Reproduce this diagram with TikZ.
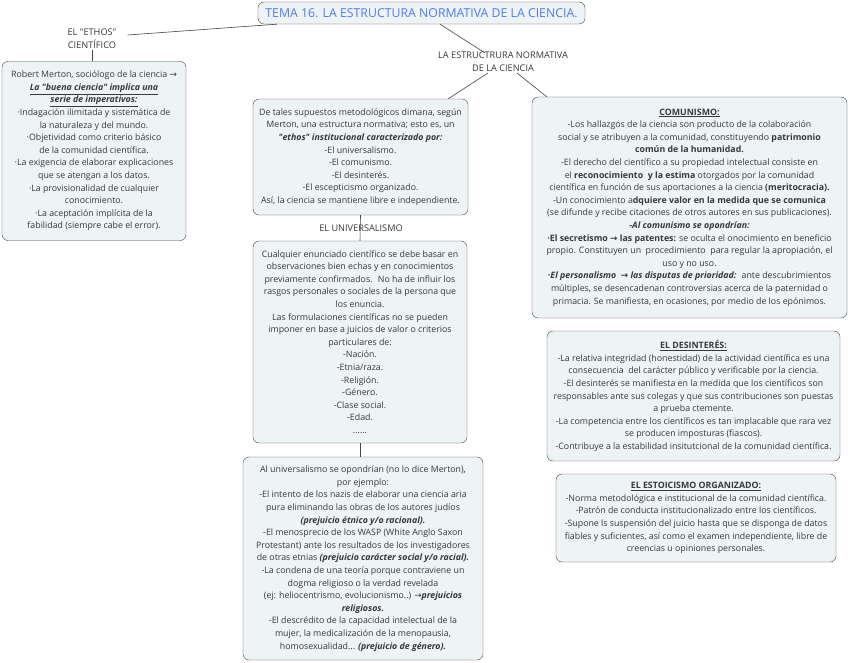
\documentclass[tikz,border=0pt]{standalone}
\usepackage{fontspec}
\setmainfont{Open Sans}
\newfontfamily\symfont{DejaVu Sans}
\usetikzlibrary{calc}

\definecolor{boxfill}{HTML}{EEF3F5}
\definecolor{boxline}{HTML}{454545}
\definecolor{titleblue}{HTML}{4F7BF2}
\definecolor{textgray}{HTML}{383838}
\newcommand{\arr}{{\symfont →}}

\begin{document}
\begin{tikzpicture}[
  x=1pt, y=-1pt,
  every node/.style={font=\fontsize{8.8}{12.6}\selectfont, text=textgray},
  mapbox/.style={draw=boxline, fill=boxfill, rounded corners=6pt, align=center, inner sep=2pt},
  maplabel/.style={align=center, inner sep=1pt, font=\fontsize{9.2}{13}\selectfont},
  link/.style={draw=boxline, line width=0.6pt}
]
\fill[white] (0,0) rectangle (848,663);
\useasboundingbox (0,0) rectangle (848,663);

% title
\node[mapbox, minimum width=327pt, minimum height=22pt, text=titleblue,
  font=\fontsize{12.3}{14}\selectfont] (title) at (421.5,13)
  {TEMA 16. LA ESTRUCTURA NORMATIVA DE LA CIENCIA.};

% left branch: the ethos
\node[maplabel] (ethos) at (92,39) {EL \textquotedbl ETHOS\textquotedbl\\CIENTÍFICO};
\node[mapbox, minimum width=184pt, minimum height=179pt] (merton) at (94,151) {%
Robert Merton, sociólogo de la ciencia \arr\\
\textbf{\textit{\underline{La \textquotedbl buena ciencia\textquotedbl{} implica una}}}\\
\textbf{\textit{\underline{serie de imperativos:}}}\\
·Indagación ilimitada y sistemática de\\
la naturaleza y del mundo.\\
·Objetividad como criterio básico\\
de la comunidad científica.\\
·La exigencia de elaborar explicaciones\\
que se atengan a los datos.\\
·La provisionalidad de cualquier\\
conocimiento.\\
·La aceptación implícita de la\\
fabilidad (siempre cabe el error).};

% right branch: the normative structure
\node[maplabel] (estructura) at (503,62) {LA ESTRUCTRURA NORMATIVA\\DE LA CIENCIA};
\node[mapbox, minimum width=215pt, minimum height=116pt] (ethosbox) at (360.5,157) {%
De tales supuestos metodológicos dimana, según\\
Merton, una estructura normativa; esto es, un\\
\textbf{\textit{\textquotedbl ethos\textquotedbl{} institucional caracterizado por:}}\\
-El universalismo.\\
-El comunismo.\\
-El desinterés.\\
-El escepticismo organizado.\\
Así, la ciencia se mantiene libre e independiente.};

\node[maplabel] (univ) at (361,228) {EL UNIVERSALISMO};
\node[mapbox, minimum width=214pt, minimum height=202pt] (univbox) at (360,342) {%
Cualquier enunciado científico se debe basar en\\
observaciones bien echas y en conocimientos\\
previamente confirmados.~ No ha de influir los\\
rasgos personales o sociales de la persona que\\
los enuncia.\\
Las formulaciones científicas no se pueden\\
imponer en base a juicios de valor o criterios\\
particulares de:\\
-Nación.\\
-Etnia/raza.\\
-Religión.\\
-Género.\\
-Clase social.\\
-Edad.\\
......};

\node[mapbox, minimum width=240pt, minimum height=203pt] (contra) at (363,558.5) {%
Al universalismo se opondrían (no lo dice Merton),\\
por ejemplo:\\
-El intento de los nazis de elaborar una ciencia aria\\
pura eliminando las obras de los autores judíos\\
\textbf{\textit{(prejuicio étnico y/o racional).}}\\
-El menosprecio de los WASP (White Anglo Saxon\\
Protestant) ante los resultados de los investigadores\\
de otras etnias \textbf{\textit{(prejuicio carácter social y/o racial).}}\\
-La condena de una teoría porque contraviene un\\
dogma religioso o la verdad revelada\\
(ej: heliocentrismo, evolucionismo..) \arr\textbf{\textit{prejuicios}}\\
\textbf{\textit{religiosos.}}\\
-El descrédito de la capacidad intelectual de la\\
mujer, la medicalización de la menopausia,\\
homosexualidad... \textbf{\textit{(prejuicio de género).}}};

\node[mapbox, minimum width=315pt, minimum height=221pt] (comun) at (689.5,207.5) {%
\textbf{\underline{COMUNISMO:}}\\
-Los hallazgos de la ciencia son producto de la colaboración\\
social y se atribuyen a la comunidad, constituyendo \textbf{patrimonio}\\
\textbf{común de la humanidad.}\\
-El derecho del científico a su propiedad intelectual consiste en\\
el \textbf{reconocimiento~ y la estima} otorgados por la comunidad\\
científica en función de sus aportaciones a la ciencia \textbf{(meritocracia).}\\
-Un conocimiento a\textbf{dquiere valor en la medida que se comunica}\\
(se difunde y recibe citaciones de otros autores en sus publicaciones).\\
\textbf{\textit{-Al comunismo se opondrían:}}\\
\textbf{·El secretismo \arr{} las patentes:} se oculta el onocimiento en beneficio\\
propio. Constituyen un~ procedimiento~ para regular la apropiación, el\\
uso y no uso.\\
\textbf{\textit{·El personalismo~ \arr{} las disputas de prioridad:}}~ ante descubrimientos\\
múltiples, se desencadenan controversias acerca de la paternidad o\\
primacia. Se manifiesta, en ocasiones, por medio de los epónimos.};

\node[mapbox, minimum width=293pt, minimum height=130pt] (desint) at (693.5,396) {%
\textbf{\underline{EL DESINTERÉS:}}\\
-La relativa integridad (honestidad) de la actividad científica es una\\
consecuencia~ del carácter público y verificable por la ciencia.\\
-El desinterés se manifiesta en la medida que los científicos son\\
responsables ante sus colegas y que sus contribuciones son puestas\\
a prueba ctemente.\\
-La competencia entre los científicos es tan implacable que rara vez\\
se producen imposturas (fiascos).\\
-Contribuye a la estabilidad insitutcional de la comunidad científica.};

\node[mapbox, minimum width=280pt, minimum height=88pt] (estoic) at (696,518) {%
\textbf{\underline{EL ESTOICISMO ORGANIZADO:}}\\
-Norma metodológica e institucional de la comunidad científica.\\
-Patrón de conducta institucionalizado entre los científicos.\\
-Supone ls suspensión del juicio hasta que se disponga de datos\\
fiables y suficientes, así como el examen independiente, libre de\\
creencias u opiniones personales.};

% connectors
\draw[link] ($(ethos.east)+(10,-4)$) -- ($(title.south west)+(19,0)$);
\draw[link] (ethos.south) -- (ethos.south |- merton.north);
\draw[link] ($(title.south)+(18.5,0)$) -- ($(estructura.north)+(-18,2)$);
\draw[link] ($(estructura.center)+(-15,11)$) -- ($(ethosbox.north east)+(-20,0)$);
\draw[link] ($(estructura.center)+(14,11)$) -- ($(comun.north west)+(15,0)$);
\draw[link] (ethosbox.south) -- (univbox.north);
\draw[link] (univbox.south) -- (univbox.south |- contra.north);
\draw[link] ($(comun.south)+(4.5,0)$) -- ($(comun.south)+(4.5,0)$ |- desint.north);
\draw[link] ($(desint.south)+(2.5,0)$) -- ($(desint.south)+(2.5,0)$ |- estoic.north);
\end{tikzpicture}
\end{document}
